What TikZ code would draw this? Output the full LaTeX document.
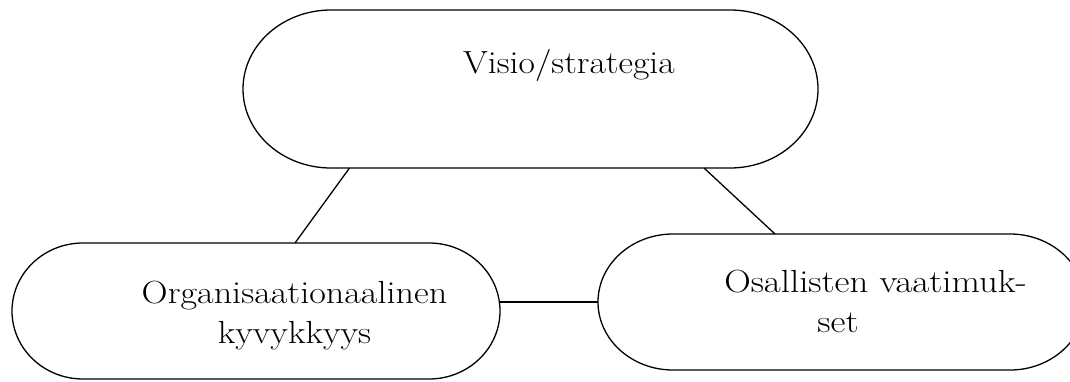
\documentclass[tikz,border=0pt]{standalone}
\usetikzlibrary{calc}
\tikzset{
  x=1pt, y=1pt,
  box/.style={draw=none, inner sep=0pt, outer sep=0pt},
  outline/.style={draw=black, line width=1.3pt},
  link/.style={draw=black, line width=1.3pt},
  label/.style={inner sep=0pt, outer sep=0pt, anchor=base, align=center,
    font=\fontsize{32}{40}\selectfont},
}
\newcommand\wide[2]{\scalebox{#1}[1]{#2}}
\newcommand\stadium[3]{%
  \draw[outline] ([xshift=#2pt]#1.north west) -- ([xshift=-#2pt]#1.north east)
    arc[start angle=90, end angle=-90, x radius=#2pt, y radius=#3pt]
    -- ([xshift=#2pt]#1.south west)
    arc[start angle=270, end angle=90, x radius=#2pt, y radius=#3pt] -- cycle;}
\begin{document}
\begin{tikzpicture}
\useasboundingbox (0,0) rectangle (1070,381);
\clip (0,0) rectangle (1070,381);
\fill[white] (0,0) rectangle (1070,381);
\node[box, minimum width=575pt, minimum height=158pt] (top) at (530.5,292) {};
\node[box, minimum width=488pt, minimum height=136pt] (bl) at (256,70) {};
\node[box, minimum width=487pt, minimum height=136pt] (br) at (841.5,79) {};
\stadium{top}{88}{79}
\stadium{bl}{71}{68}
\stadium{br}{75}{68}
\draw[link] ([xshift=106.5pt]top.south west) -- ([xshift=283pt]bl.north west);
\draw[link] ([xshift=461pt]top.south west) -- ([xshift=177pt]br.north west);
\draw[link] (bl.east |- br.west) -- (br.west);
\node[label] (ttop) at (569,307) {\wide{1.116}{Visio/strategia}};
\node[label] (tbl) at (294.5,38) {\wide{1.13}{Organisaationaalinen}\\\wide{1.13}{kyvykkyys}};
\node[label] (tbr) at (875.5,49) {\wide{1.15}{Osallisten vaatimuk-}\\\hspace*{-75pt}\wide{1.15}{set}};
\end{tikzpicture}
\end{document}
